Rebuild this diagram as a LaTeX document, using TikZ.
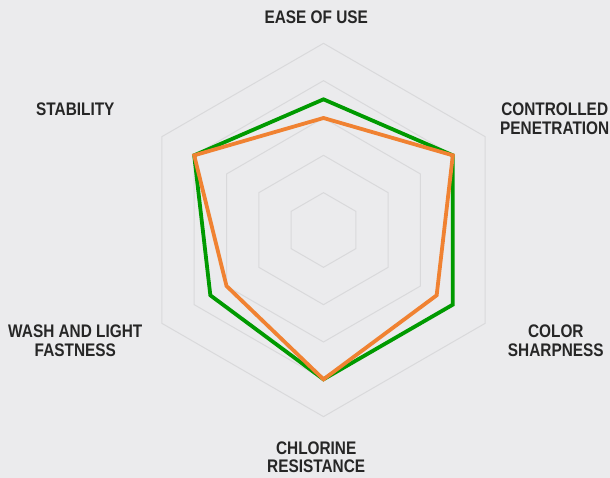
\documentclass[tikz,border=0pt]{standalone}
\usepackage{fontspec}
\setmainfont{Liberation Sans}[FakeStretch=0.845]
\usetikzlibrary{calc}
\definecolor{bgfill}{HTML}{EBEBED}
\definecolor{gridgray}{HTML}{D9D9DB}
\definecolor{labelgray}{HTML}{262626}
\definecolor{seriesgreen}{HTML}{009A00}
\definecolor{seriesorange}{HTML}{F08232}

\begin{document}
\begin{tikzpicture}[x=1pt,y=1pt, grid/.style={draw=gridgray, line width=1pt},
	series/.style={line width=3.8pt, line join=miter},
	axis/.style={font=\bfseries\fontsize{18.2}{18.3}\selectfont, text=labelgray, align=center, inner sep=0pt}]

\fill[bgfill] (0,0) rectangle (610,478);
\coordinate (O) at (323.5,248);

% hexagon rings
\foreach \r in {1,...,5}
	\draw[grid, shift={(O)}] (90:\r*37.33) -- (30:\r*37.33) -- (-30:\r*37.33) -- (-90:\r*37.33) -- (-150:\r*37.33) -- (150:\r*37.33) -- cycle;

% series
\draw[series, seriesgreen, shift={(O)}] (90:3.5*37.33) -- (30:4*37.33) -- (-30:4*37.33) -- (-90:4*37.33) -- (-150:3.5*37.33) -- (150:4*37.33) -- cycle;
\draw[series, seriesorange, shift={(O)}] (90:3*37.33) -- (30:4*37.33) -- (-30:3.5*37.33) -- (-90:4*37.33) -- (-150:3*37.33) -- (150:4*37.33) -- cycle;

% labels
\node[axis] (ease) at (316.2,460.7) {EASE OF USE};
\node[axis] (control) at (554.7,359.2) {CONTROLLED\\PENETRATION};
\node[axis] (color) at (555.8,137.2) {COLOR\\SHARPNESS};
\node[axis] (chlorine) at (316.2,20.8) {CHLORINE\\RESISTANCE};
\node[axis] (wash) at (75.3,137.2) {WASH AND LIGHT\\FASTNESS};
\node[axis] (stability) at (75.3,368.7) {STABILITY};
\end{tikzpicture}
\end{document}
